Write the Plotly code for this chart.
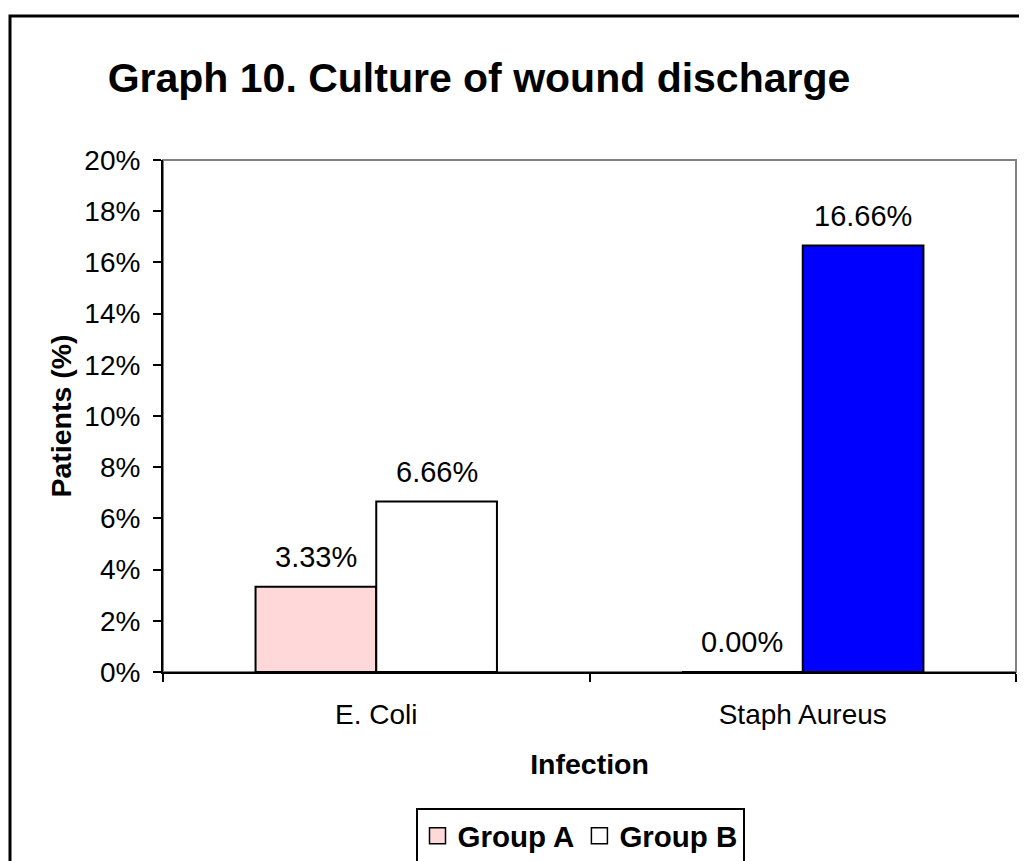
import plotly.graph_objects as go

categories = ["E. Coli", "Staph Aureus"]
group_a = [0.0333, 0.0]
group_b = [0.0666, 0.1666]
group_a_colors = ["#FFD9D9", "#FFD9D9"]
group_b_colors = ["#FFFFFF", "#0000FF"]
y_ticks = [0, 0.02, 0.04, 0.06, 0.08, 0.10, 0.12, 0.14, 0.16, 0.18, 0.20]

FONT = "Liberation Sans, Arial, sans-serif"
BARGAP = 0.434
# plot area in figure pixels (page body adds an 8px offset)
L, R, T, B = 155, 1008, 152, 664
W, H = 1027, 861
PW, PH = R - L, B - T

fig = go.Figure()
fig.add_trace(go.Bar(name="Group A", x=categories, y=group_a, showlegend=False,
                     marker=dict(color=group_a_colors, line=dict(color="black", width=2))))
fig.add_trace(go.Bar(name="Group B", x=categories, y=group_b, showlegend=False,
                     marker=dict(color=group_b_colors, line=dict(color="black", width=2))))
# legend entries with larger square swatches
for name, col in [("Group A", group_a_colors[0]), ("Group B", group_b_colors[0])]:
    fig.add_trace(go.Scatter(name=name, x=[None], y=[None], mode="markers",
                             marker=dict(symbol="square", size=17, color=col,
                                         line=dict(color="black", width=1.5))))

half = (1 - BARGAP) / 4
annotations = []
for gi, vals in enumerate([group_a, group_b]):
    off = -half if gi == 0 else half
    for ci, v in enumerate(vals):
        annotations.append(dict(x=ci + off, y=v, xref="x", yref="y", text=f"{v*100:.2f}%",
                                showarrow=False, yanchor="bottom", yshift=12,
                                font=dict(family=FONT, size=29, color="black")))

fig.update_layout(
    width=W, height=H,
    margin=dict(l=L, r=W - R, t=T, b=H - B, autoexpand=False),
    paper_bgcolor="white", plot_bgcolor="white",
    barmode="group", bargap=BARGAP, bargroupgap=0,
    font=dict(family=FONT, size=28, color="black"),
    title=dict(text="<b>Graph 10. Culture of wound discharge</b>", x=471/W, xanchor="center",
               y=1 - 70/H, yanchor="middle", font=dict(family=FONT, size=41, color="black")),
    showlegend=True,
    legend=dict(orientation="h", x=(572 - L)/PW, y=(B - 800)/PH, xanchor="center", yanchor="top",
                bgcolor="white", bordercolor="black", borderwidth=2,
                font=dict(family=FONT, size=29.5, color="black", weight="bold")),
    annotations=annotations,
    shapes=[
        dict(type="rect", xref="x domain", yref="y domain", x0=0, x1=1, y0=0, y1=1,
             line=dict(color="#808080", width=2), layer="below"),
        dict(type="rect", xref="paper", yref="paper", x0=(2 - L)/PW, x1=(1040 - L)/PW,
             y0=(B - 880)/PH, y1=(B - 8)/PH, line=dict(color="black", width=3), layer="below"),
    ],
)
fig.update_xaxes(type="category", range=[-0.5, 1.5], tickson="boundaries", ticks="outside",
                 ticklen=8, tickwidth=2, tickcolor="black", showline=True, linecolor="black",
                 linewidth=2, showgrid=False, ticklabelstandoff=16,
                 title=dict(text="<b>Infection</b>", font=dict(family=FONT, size=28.5), standoff=25),
                 tickfont=dict(family=FONT, size=28))
fig.update_yaxes(range=[0, 0.2], tickvals=y_ticks, tickformat=".0%", ticks="outside",
                 ticklen=8, tickwidth=2, tickcolor="black", showline=True, linecolor="black",
                 linewidth=2, showgrid=False, zeroline=False, ticklabelstandoff=7,
                 title=dict(text="<b>Patients (%)</b>", font=dict(family=FONT, size=28.5), standoff=4),
                 tickfont=dict(family=FONT, size=28))

fig.write_html("out.html")
